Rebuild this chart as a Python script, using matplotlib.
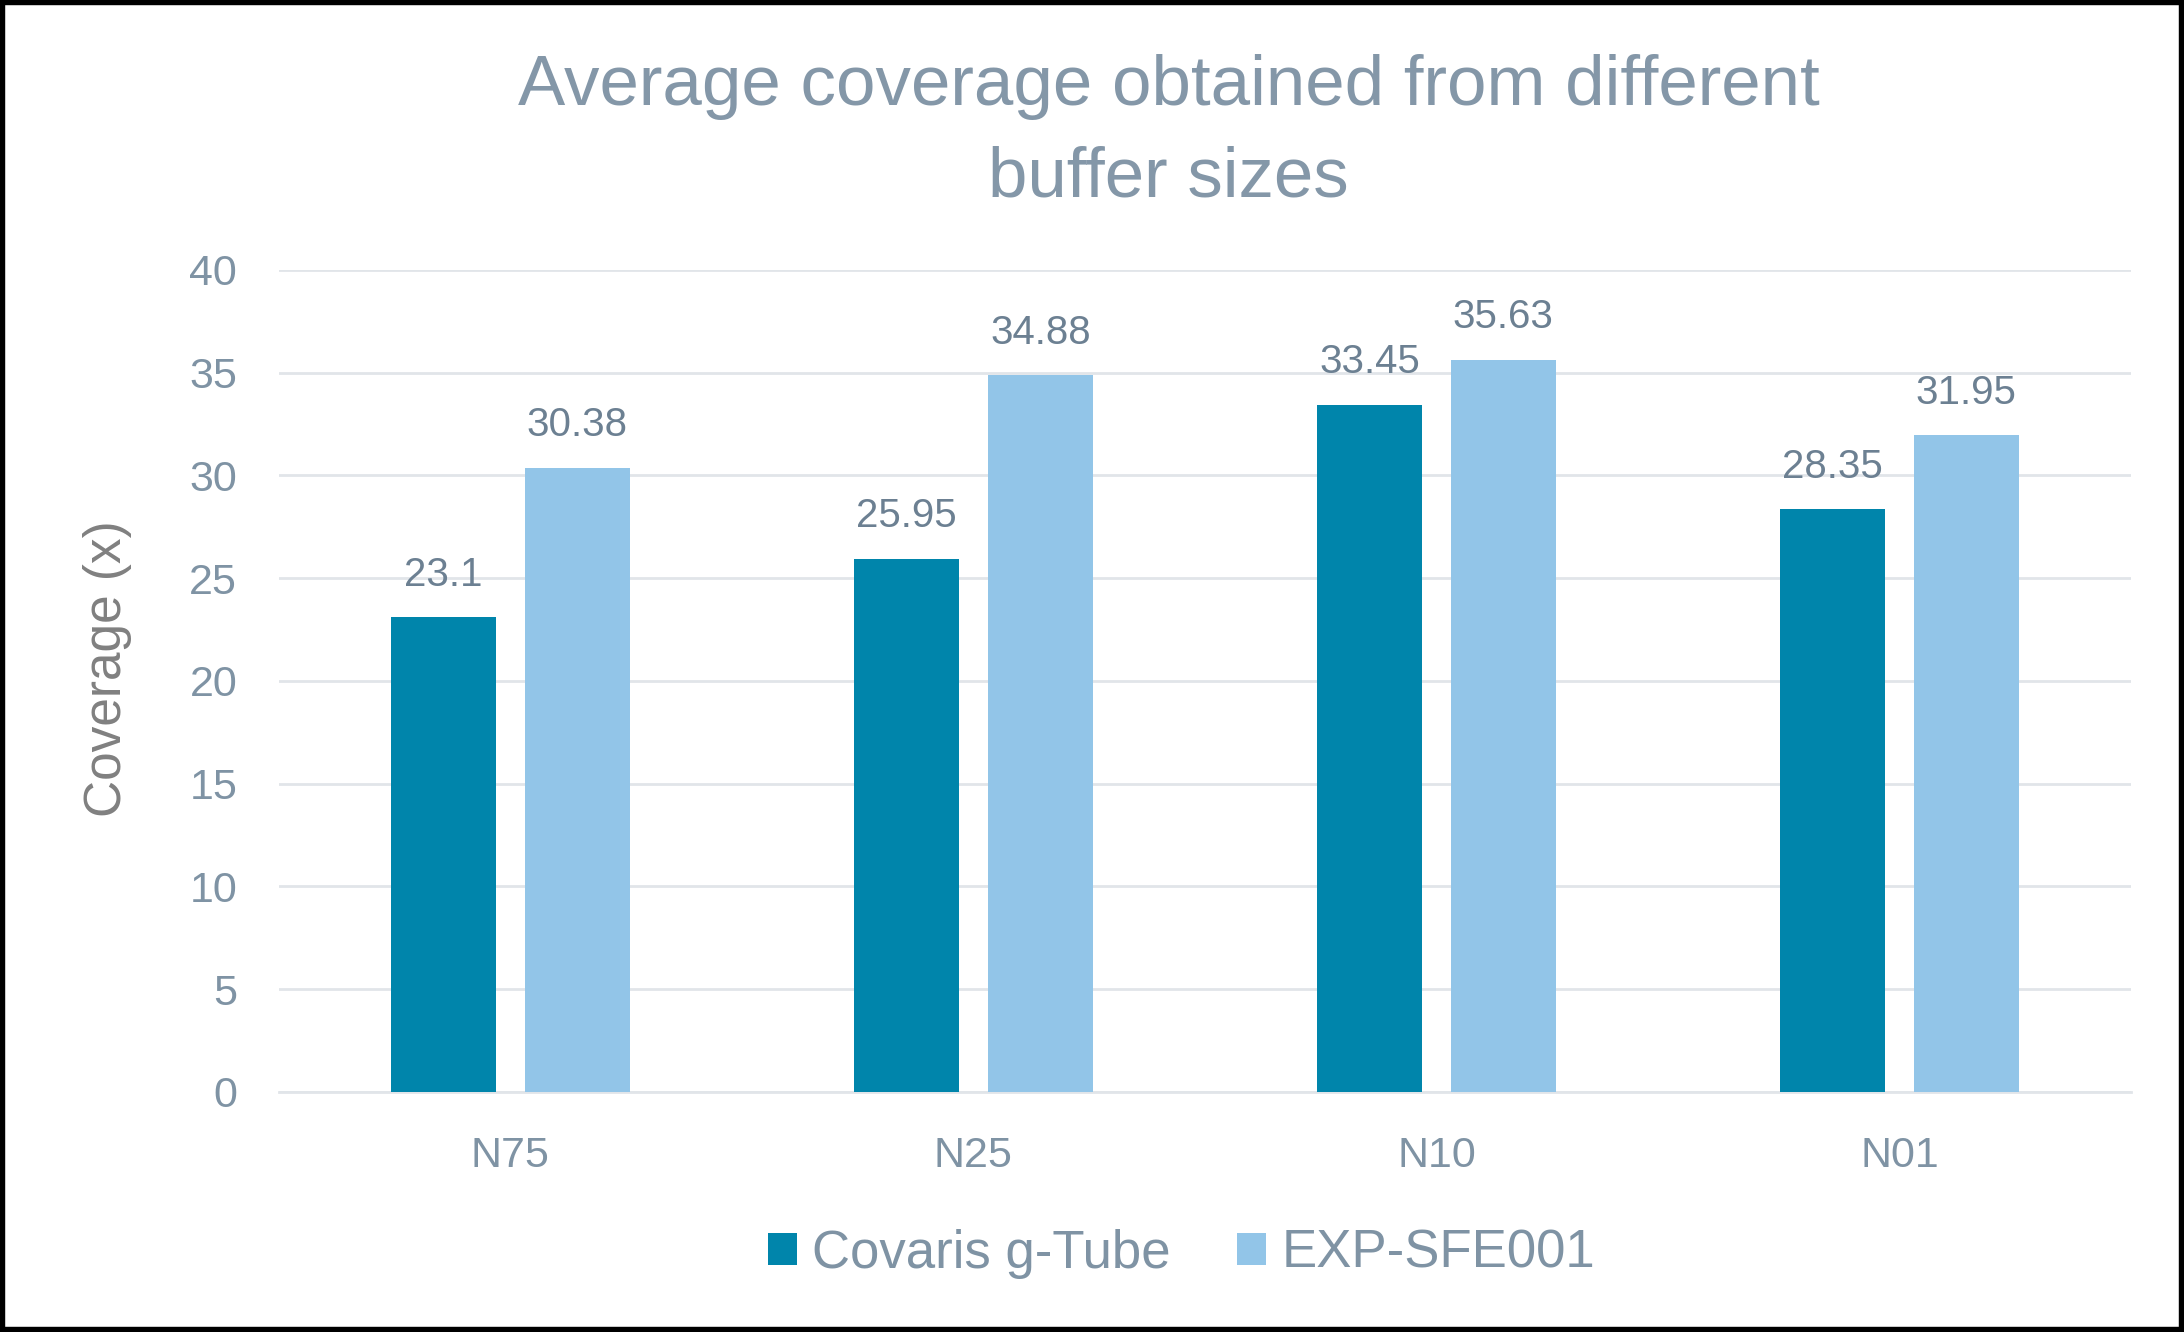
import numpy as np
import matplotlib
matplotlib.use("Agg")
import matplotlib.pyplot as plt
from matplotlib.patches import Rectangle

# data
categories = ["N75", "N25", "N10", "N01"]
covaris = [23.1, 25.95, 33.45, 28.35]
exp_sfe = [30.38, 34.88, 35.63, 31.95]
labels_covaris = ["23.1", "25.95", "33.45", "28.35"]
labels_exp = ["30.38", "34.88", "35.63", "31.95"]
yticks = [0, 5, 10, 15, 20, 25, 30, 35, 40]

plt.rcParams['font.family'] = ['Liberation Sans', 'DejaVu Sans']

dark = '#0085AB'
light = '#92C5E8'
tick_col = '#7F93A4'
lab_col = '#6C8092'
grid_col = '#E1E5E9'

fig = plt.figure(figsize=(21.84, 13.32), dpi=100)
ax = fig.add_axes([0.1277, 0.1802, 0.848, 0.6171])

x = np.arange(len(categories))
w = 0.226
off = 0.1446
b1 = ax.bar(x - off, covaris, w, color=dark, label="Covaris g-Tube", zorder=3)
b2 = ax.bar(x + off, exp_sfe, w, color=light, label="EXP-SFE001", zorder=3)

ax.bar_label(b1, labels=labels_covaris, padding=17, fontsize=29, color=lab_col)
ax.bar_label(b2, labels=labels_exp, padding=17, fontsize=29, color=lab_col)

ax.set_xlim(-0.5, 3.5)
ax.set_ylim(0, 40)
ax.set_yticks(yticks)
ax.set_xticks(x)
ax.set_xticklabels(categories)
ax.yaxis.grid(True, color=grid_col, linewidth=2, zorder=0)
ax.set_axisbelow(True)
for s in ['top', 'right', 'left']:
    ax.spines[s].set_visible(False)
ax.spines['bottom'].set_color(grid_col)
ax.spines['bottom'].set_linewidth(2)
ax.tick_params(axis='both', length=0, labelsize=31, colors=tick_col)
ax.tick_params(axis='y', pad=30)
ax.tick_params(axis='x', pad=32)

fig.text(0.049, 0.498, "Coverage (x)", rotation=90, ha='center', va='center',
         fontsize=37, color='#808080')
fig.text(0.535, 0.900, "Average coverage obtained from different\nbuffer sizes",
         ha='center', va='center', fontsize=51, color='#8497A8', linespacing=1.5)

leg = fig.legend(loc='center', bbox_to_anchor=(0.541, 0.0586), ncol=2, frameon=False,
                 fontsize=38, handlelength=0.55, handleheight=0.55, handletextpad=0.3,
                 columnspacing=1.25)
for t in leg.get_texts():
    t.set_color(tick_col)

fig.patches.append(Rectangle((0, 0), 1, 1, transform=fig.transFigure, fill=False,
                             edgecolor='black', linewidth=7.5))

fig.savefig("out.png", dpi=100)
